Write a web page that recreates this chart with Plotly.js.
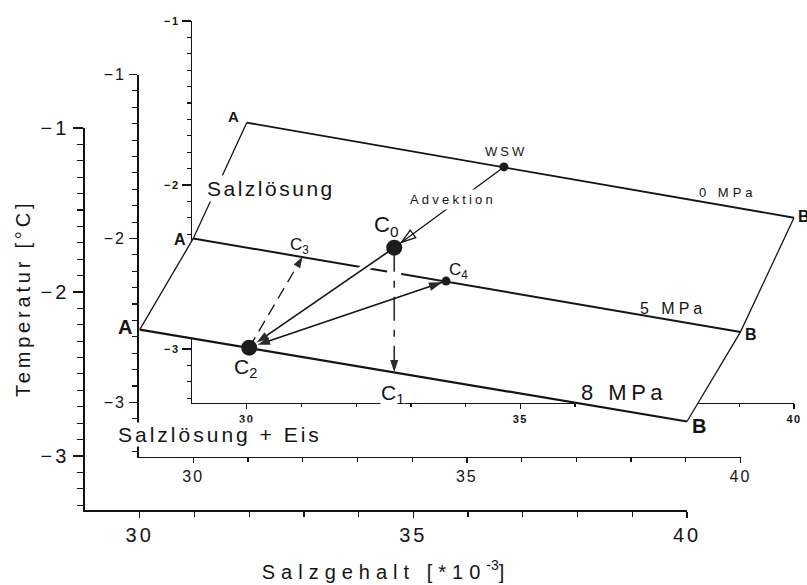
<!DOCTYPE html>
<html>
<head>
<meta charset="utf-8">
<script src="https://cdn.plot.ly/plotly-3.0.1.min.js"></script>
<style>
  html, body { margin: 0; padding: 0; background: #fff; }
  #chart { width: 807px; height: 585px; }
</style>
</head>
<body>
<div id="chart"></div>
<script>
// Freezing lines of sea water (temperature vs. salinity) at three pressures,
// drawn as three stacked planes, with the path of a water parcel.

// ---- data ----
const planeNames = ['8 MPa', '5 MPa', '0 MPa'];       // plane 0 = front
const salinityAB = [30, 40];                            // end points A and B
const freeze8MPa = [-2.23, -2.79];
const freeze5MPa = [-2.00, -2.57];
const freeze0MPa = [-1.62, -2.20];

// parcel states: salinity, temperature, plane index
const stateNames = ['WSW', 'C0', 'C1', 'C2', 'C3', 'C4'];
const stateSal   = [34.70, 34.65, 34.65, 32.00, 32.00, 34.62];
const stateTemp  = [-1.89, -1.73, -2.49, -2.34, -2.11, -2.26];
const statePlane = [2, 0, 0, 0, 1, 1];

// axis ticks
const tempTicks = [-1, -2, -3];
const tempTickText = ['\u22121', '\u22122', '\u22123'];
const salTicks = [30, 35, 40];
const salTickText = ['30', '35', '40'];
const salRange = [29, 40];
const tempRange = [-3.33, -1];

// minor salinity ticks: every unit inside the axis, skipping the labelled ones
const salMinor = [];
for (let s = salRange[0] + 1; s < salRange[1]; s++) if (salTicks.indexOf(s) < 0) salMinor.push(s);

// ---- geometry of the planes (pixels) ----
const W = 807, H = 585;
const FRONT = { left: 85, right: 687, top: 128, bottom: 510 };
const SHIFT = { dx: 53.5, dy: -53.5 };
const pxPerS = (FRONT.right - FRONT.left) / (salRange[1] - salRange[0]);
const pxPerT = (FRONT.bottom - FRONT.top) / (tempRange[1] - tempRange[0]);

// position of a plane-k point expressed in front-plane units
function proj(s, t, k) {
  return [s + k * SHIFT.dx / pxPerS, t - k * SHIFT.dy / pxPerT];
}
function projMany(ss, ts, ks) {
  const xs = [], ys = [];
  ss.forEach((s, i) => { const p = proj(s, ts[i], ks[i]); xs.push(p[0]); ys.push(p[1]); });
  return { x: xs, y: ys };
}

const INK = '#141414';
const FONT = 'Liberation Sans, Arial, Helvetica, sans-serif';
const sp = (t, ls) => '<span style="letter-spacing:' + ls + 'px">' + t + '</span>';

// ---- axes of the three planes ----
const planeStyle = [
  { font: 20, bold: false, ls: 3, xlen: 6, ylen: 10, xmin: 5, ymin: 6, lw: 1.6 },
  { font: 16, bold: false, ls: 2, xlen: 5, ylen: 8, xmin: 4, ymin: 5, lw: 1.4 },
  { font: 11, bold: true,  ls: 1.5, xlen: 5, ylen: 9, xmin: 3, ymin: 4, lw: 1.3 }
];

const layout = {
  width: W, height: H,
  margin: { l: 0, r: 0, t: 0, b: 0 },
  paper_bgcolor: '#ffffff',
  plot_bgcolor: 'rgba(0,0,0,0)',
  showlegend: false,
  font: { family: FONT, color: INK },
  annotations: []
};

planeNames.forEach((name, k) => {
  const st = planeStyle[k];
  const sfx = k === 0 ? '' : String(k + 1);
  const xd = [(FRONT.left + k * SHIFT.dx) / W, (FRONT.right + k * SHIFT.dx) / W];
  const yd = [1 - (FRONT.bottom + k * SHIFT.dy) / H, 1 - (FRONT.top + k * SHIFT.dy) / H];
  const tf = { family: FONT, size: st.font, color: INK, weight: st.bold ? 'bold' : 'normal' };
  layout['xaxis' + sfx] = {
    domain: xd, range: salRange, anchor: 'y' + sfx, fixedrange: true,
    showline: true, linecolor: INK, linewidth: st.lw,
    showgrid: false, zeroline: false,
    ticks: 'outside', ticklen: st.xlen, tickwidth: 1.3, tickcolor: INK,
    tickmode: 'array', tickvals: salTicks, ticktext: salTickText.map(t => sp(t, st.ls)),
    tickfont: tf,
    minor: { tickmode: 'array', tickvals: salMinor, ticks: 'outside',
             ticklen: st.xmin, tickwidth: 1.2, tickcolor: INK, showgrid: false }
  };
  layout['yaxis' + sfx] = {
    domain: yd, range: tempRange, anchor: 'x' + sfx, fixedrange: true,
    showline: true, linecolor: INK, linewidth: st.lw,
    showgrid: false, zeroline: false,
    ticks: 'outside', ticklen: st.ylen, tickwidth: 1.3, tickcolor: INK,
    tickmode: 'array', tickvals: tempTicks, ticktext: tempTickText.map(t => sp(t, st.ls)),
    tickfont: tf,
    minor: { tickmode: 'linear', tick0: -1, dtick: 0.1, ticks: 'outside',
             ticklen: st.ymin, tickwidth: 1.1, tickcolor: INK, showgrid: false }
  };
});

layout.xaxis.title = { text: sp('Salzgehalt [*10', 6) + '<sup>-3</sup>' + sp(']', 6),
                       font: { size: 20, color: INK }, standoff: 20 };

// overlay axes spanning the whole figure in front-plane units
layout.xaxis4 = {
  domain: [0, 1], anchor: 'y4', visible: false, fixedrange: true,
  range: [salRange[0] - FRONT.left / pxPerS, salRange[0] + (W - FRONT.left) / pxPerS]
};
layout.yaxis4 = {
  domain: [0, 1], anchor: 'x4', visible: false, fixedrange: true,
  range: [tempRange[0] - (H - FRONT.bottom) / pxPerT, tempRange[1] + FRONT.top / pxPerT]
};

// ---- traces ----
const freezeByPlane = [freeze8MPa, freeze5MPa, freeze0MPa];
const ptA = freezeByPlane.map((f, k) => proj(salinityAB[0], f[0], k));
const ptB = freezeByPlane.map((f, k) => proj(salinityAB[1], f[1], k));
const st = projMany(stateSal, stateTemp, statePlane);
const S = name => { const i = stateNames.indexOf(name); return [st.x[i], st.y[i]]; };
const mid = (p, q) => [(p[0] + q[0]) / 2, (p[1] + q[1]) / 2];

const ov = { xaxis: 'x4', yaxis: 'y4', hoverinfo: 'skip', showlegend: false, type: 'scatter' };
const traces = [];

// keep the plane subplots alive
['x', 'x2', 'x3'].forEach((xa, k) => traces.push({ type: 'scatter', x: [], y: [], xaxis: xa,
  yaxis: 'y' + (k === 0 ? '' : k + 1), hoverinfo: 'skip', showlegend: false }));

// freezing surface hides the axes lying behind it
traces.push(Object.assign({}, ov, {
  x: [ptA[2][0], ptB[2][0], ptB[1][0], ptB[0][0], ptA[0][0], ptA[1][0], ptA[2][0]],
  y: [ptA[2][1], ptB[2][1], ptB[1][1], ptB[0][1], ptA[0][1], ptA[1][1], ptA[2][1]],
  mode: 'lines', fill: 'toself', fillcolor: '#ffffff', line: { width: 0.5, color: '#ffffff' }
}));

// freezing lines
const lineW = [2.2, 2.0, 1.8];
planeNames.forEach((name, k) => {
  traces.push(Object.assign({}, ov, {
    x: [ptA[k][0], ptB[k][0]], y: [ptA[k][1], ptB[k][1]],
    mode: 'lines', line: { color: INK, width: lineW[k] }
  }));
});
// connecting edges A-A-A and B-B-B
[ptA, ptB].forEach(pts => traces.push(Object.assign({}, ov, {
  x: [pts[2][0], pts[1][0], pts[0][0]], y: [pts[2][1], pts[1][1], pts[0][1]],
  mode: 'lines', line: { color: INK, width: 1.3 }
})));

// white gaps where the parcel paths pass in front of the 5 MPa line
[[S('C0'), mid(S('C0'), S('C2')), 8], [S('C0'), mid(S('C0'), S('C1')), 14]].forEach(h => {
  traces.push(Object.assign({}, ov, {
    x: [h[0][0], h[1][0]], y: [h[0][1], h[1][1]],
    mode: 'lines', line: { color: '#ffffff', width: h[2] }
  }));
});

function arrow(from, to, opts) {
  return Object.assign({}, ov, {
    x: [from[0], to[0]], y: [from[1], to[1]],
    mode: opts.noLine ? 'markers' : 'lines+markers',
    line: { color: INK, width: opts.width || 1.5, dash: opts.dash || 'solid' },
    marker: {
      symbol: opts.symbol || 'arrow', size: [0, opts.size || 13], angleref: 'previous',
      standoff: opts.standoff || 0, color: opts.color || '#2b2b2b', opacity: 1,
      line: { width: opts.open ? 1.3 : 0, color: INK }
    }
  });
}

// advection WSW -> C0
traces.push(arrow(S('WSW'), S('C0'), { symbol: 'arrow-open', size: 15, standoff: 9, color: INK, width: 1.3, open: true }));
// cooling C0 -> C1
traces.push(arrow(S('C0'), S('C1'), { dash: '24px,9px,7px,9px', size: 13, width: 1.4 }));
// C0 -> C2
traces.push(arrow(S('C0'), S('C2'), { size: 13, standoff: 9, width: 1.6 }));
// C2 <-> C4
traces.push(arrow(S('C4'), S('C2'), { size: 13, standoff: 9, width: 1.6 }));
traces.push(arrow(S('C2'), S('C4'), { size: 14, standoff: 4, noLine: true }));
// C2 -> C3
traces.push(arrow(S('C2'), S('C3'), { dash: '12px,7px', size: 12, width: 1.3 }));

// parcel states
const dotNames = ['WSW', 'C0', 'C2', 'C4'];
const dotSize = [9, 16, 16, 9];
traces.push(Object.assign({}, ov, {
  x: dotNames.map(n => S(n)[0]), y: dotNames.map(n => S(n)[1]),
  mode: 'markers', marker: { size: dotSize, color: '#1c1c1c', opacity: 1, line: { width: 0 } }
}));

// ---- labels ----
function lab(text, px, py, size, o) {
  o = o || {};
  layout.annotations.push({
    xref: 'paper', yref: 'paper', x: px / W, y: 1 - py / H,
    xanchor: o.xanchor || 'center', yanchor: 'middle', showarrow: false,
    textangle: o.angle || 0,
    text: sp(text, o.ls || 0),
    font: { family: FONT, size: size, color: INK, weight: o.bold ? 'bold' : 'normal' },
    bgcolor: o.bg ? '#ffffff' : 'rgba(0,0,0,0)', borderpad: o.pad || 0
  });
}
// temperature axis title
lab('Temperatur [°C]', 23, 299, 20, { ls: 3.8, angle: -90 });

lab('Salzlösung', 271, 189, 21, { ls: 2.5, bg: true, pad: 1 });
lab('Salzlösung + Eis', 220, 434, 21, { ls: 3, bg: true });
lab('Advektion', 453, 199, 13, { ls: 3.2, bg: true, pad: 2 });
lab('WSW', 506, 152, 13, { ls: 3 });
lab(planeNames[2], 728, 193, 13, { ls: 4 });
lab(planeNames[1], 673, 308, 16, { ls: 4 });
lab(planeNames[0], 624, 393, 22, { ls: 4.5 });

lab('A', 233, 117, 15, { bold: true });
lab('A', 180, 239, 16, { bold: true });
lab('A', 125, 327, 20, { bold: true });
lab('B', 804, 216, 16, { bold: true });
lab('B', 751, 334, 16, { bold: true });
lab('B', 699, 426, 20, { bold: true });

lab('C<sub>0</sub>', 386, 226, 22);
lab('C<sub>1</sub>', 392, 394, 21, { bg: true });
lab('C<sub>2</sub>', 245, 368, 21);
lab('C<sub>3</sub>', 299, 246, 17);
lab('C<sub>4</sub>', 458, 271, 17);

Plotly.newPlot('chart', traces, layout, { staticPlot: true, displayModeBar: false });
</script>
</body>
</html>
